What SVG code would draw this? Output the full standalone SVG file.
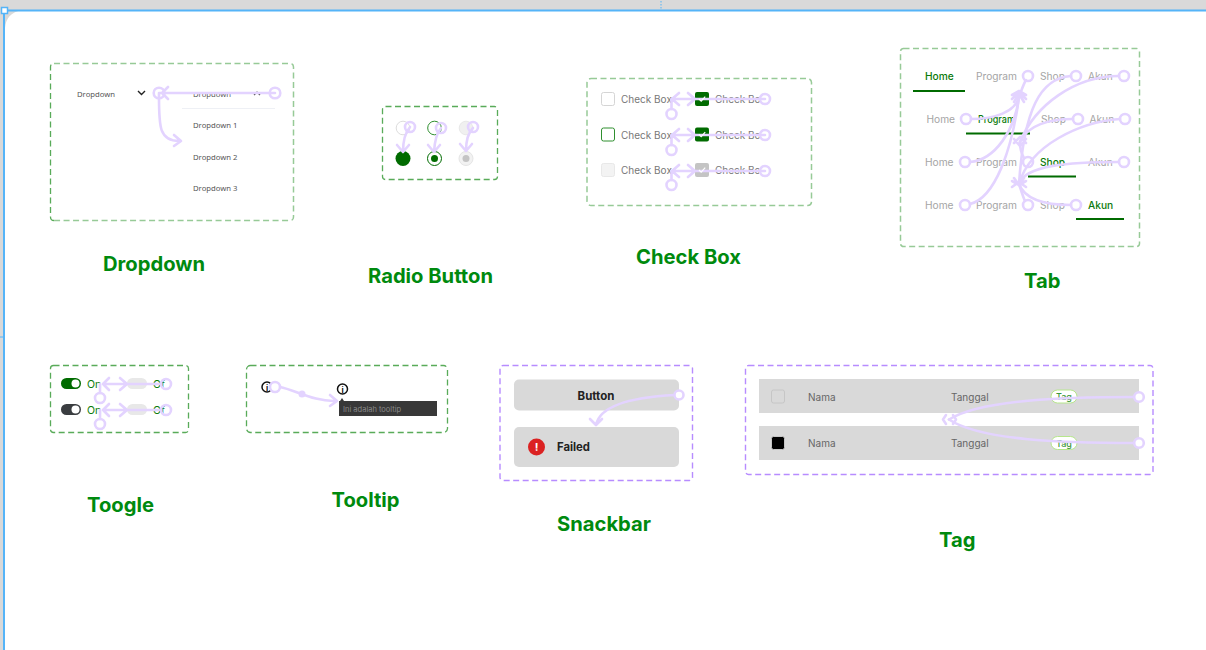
<svg xmlns="http://www.w3.org/2000/svg" width="1206" height="650" viewBox="0 0 1206 650">
<style>
text{font-family:Inter,"Liberation Sans",sans-serif}
.title{font-size:20.2px;font-weight:700;fill:#008a0e}
.gf{fill:none;stroke:#2f962f;stroke-opacity:.5;stroke-width:1.500;stroke-dasharray:6 3.500}
.gf2{fill:none;stroke:#2f962f;stroke-width:1.300;stroke-dasharray:6 3.500;stroke-opacity:.8}
.pf{fill:none;stroke:#b78cff;stroke-width:1.400;stroke-dasharray:6 3.500}
.dd{font-family:"Noto Sans",sans-serif;font-size:7.700px;fill:#555}
.lb{font-size:10px;fill:#777}
.tab{font-size:10.200px;fill:#a5a5a5}
.tabon{font-size:10.200px;fill:#0b7a0b;font-weight:500}
.ul{stroke:#006b00;stroke-width:2}
.row{font-size:10px;fill:#666}
.c{fill:none;stroke:#e3d3ff;stroke-width:2.600;stroke-linecap:round;stroke-linejoin:round}
.h{fill:#fff;stroke:#e3d3ff;stroke-width:2.600}
.hn{fill:none;stroke:#e3d3ff;stroke-width:2.600}
.tick{fill:none;stroke:#fff;stroke-width:1.200}
</style>
<rect width="1206" height="650" fill="#fff"/>
<g id="canvas">
<rect x="0" y="0" width="1206" height="10" fill="#d9d9d9"/>
<rect x="0" y="10" width="4" height="640" fill="#d9d9d9"/>
<path d="M4 10H22Q6 13 5 28Z" fill="#d9d9d9"/>
<path d="M4 650V10.500H1206" fill="none" stroke="#55b4f8" stroke-width="2"/>
<rect x="1.500" y="7.500" width="6" height="6" fill="#fff" stroke="#55b4f8" stroke-width="1.500"/>
<path d="M661 1V9" stroke="#55b4f8" stroke-dasharray="1.500 1.500" stroke-width="1"/>
<path d="M0 337H3" stroke="#55b4f8" stroke-width="1"/>
</g>
<g id="dropdown">
<path class="gf" d="M54 63.500H290Q293.500 63.500 293.500 67V217Q293.500 220.500 290 220.500H54"/>
<path class="gf2" d="M54 220.500Q50.500 220.500 50.500 217V67Q50.500 63.500 54 63.500"/>
<text class="dd" x="77" y="96.500">Dropdown</text>
<path d="M138 91l3.500 3.500 3.500-3.500" fill="none" stroke="#222" stroke-width="1.400"/>
<text class="dd" x="193" y="96.500">Dropdown</text>
<path d="M254 95l3-3 3 3" fill="none" stroke="#444" stroke-width="1.200"/>
<path d="M182 108.500H275" stroke="#eef0f5" stroke-width="1"/>
<text class="dd" x="193" y="128">Dropdown 1</text>
<text class="dd" x="193" y="159.500">Dropdown 2</text>
<text class="dd" x="193" y="191">Dropdown 3</text>
<text class="title" x="103" y="271">Dropdown</text>
</g>
<g id="radio">
<rect class="gf2" x="382.500" y="106.500" width="115" height="73" rx="3"/>
<circle cx="403" cy="128" r="6.800" fill="#fff" stroke="#ddd"/>
<circle cx="434.500" cy="128" r="6.800" fill="#fff" stroke="#2f8f2f"/>
<circle cx="466" cy="128" r="6.800" fill="#f0f0f0" stroke="#e8e8e8"/>
<circle cx="403" cy="158.500" r="7.500" fill="#006b00"/>
<circle cx="434.500" cy="158.500" r="7" fill="#fff" stroke="#006b00"/>
<circle cx="434.500" cy="158.500" r="3.500" fill="#006b00"/>
<circle cx="466" cy="158.500" r="7" fill="#f2f2f2" stroke="#e5e5e5"/>
<circle cx="466" cy="158.500" r="3.500" fill="#c4c4c4"/>
<text class="title" x="368" y="283">Radio Button</text>
</g>
<g id="checkbox">
<rect class="gf" x="587" y="78.500" width="224.500" height="127" rx="4"/>
<rect x="601.500" y="92.500" width="13" height="13" rx="2" fill="#fff" stroke="#d5d5d5"/>
<rect x="601.500" y="128" width="13" height="13" rx="2" fill="#fff" stroke="#2f8f2f"/>
<rect x="601.500" y="163.500" width="13" height="13" rx="2" fill="#f3f3f3" stroke="#e8e8e8"/>
<text class="lb" x="621" y="103">Check Box</text>
<text class="lb" x="621" y="138.500">Check Box</text>
<text class="lb" x="621" y="174">Check Box</text>
<rect x="695" y="92" width="14" height="14" rx="2" fill="#006b00"/>
<rect x="695" y="127.500" width="14" height="14" rx="2" fill="#006b00"/>
<rect x="695" y="163" width="14" height="14" rx="2" fill="#c4c4c4"/>
<text class="lb" x="715" y="103">Check Bo</text>
<text class="lb" x="715" y="138.500">Check Bo</text>
<text class="lb" x="715" y="174">Check Bo</text>
<text class="title" x="636" y="264">Check Box</text>
</g>
<g id="tab">
<rect class="gf" x="900.500" y="48.500" width="239" height="198" rx="3"/>
<text class="tabon" x="925" y="80">Home</text><text class="tab" x="976" y="80">Program</text><text class="tab" x="1040" y="80">Shop</text><text class="tab" x="1088" y="80">Akun</text>
<path class="ul" d="M913 91H965"/>
<text class="tab" x="926.500" y="123">Home</text><text class="tabon" x="978" y="123" textLength="37" lengthAdjust="spacingAndGlyphs">Program</text><text class="tab" x="1041" y="123">Shop</text><text class="tab" x="1089.500" y="123">Akun</text>
<path class="ul" d="M966 133.500H1030"/>
<text class="tab" x="925" y="166">Home</text><text class="tab" x="976" y="166">Program</text><text class="tabon" x="1040" y="166">Shop</text><text class="tab" x="1088" y="166">Akun</text>
<path class="ul" d="M1028 176.500H1076"/>
<text class="tab" x="925" y="209">Home</text><text class="tab" x="976" y="209">Program</text><text class="tab" x="1040" y="209">Shop</text><text class="tabon" x="1088" y="209">Akun</text>
<path class="ul" d="M1076 219H1124"/>
<text class="title" x="1024" y="288">Tab</text>
</g>
<g id="toggle">
<rect class="gf2" x="50.500" y="365.500" width="138" height="67" rx="3"/>
<rect x="61" y="378" width="20" height="11" rx="5.500" fill="#006b00"/>
<circle cx="75.500" cy="383.500" r="4" fill="#fff"/>
<rect x="61" y="404" width="20" height="11" rx="5.500" fill="#3a3d40"/>
<circle cx="75.500" cy="409.500" r="4" fill="#fff"/>
<text x="87" y="387.500" font-size="10.500" fill="#0b7a0b">On</text>
<text x="87" y="413.500" font-size="10.500" fill="#0b7a0b">On</text>
<rect x="127" y="378" width="20" height="11" rx="5.500" fill="#e8e8e8"/>
<rect x="127" y="404" width="20" height="11" rx="5.500" fill="#e8e8e8"/>
<text x="153" y="387.500" font-size="10.500" fill="#0b7a0b">Of</text>
<text x="153" y="413.500" font-size="10.500" fill="#0b7a0b">Of</text>
<text class="title" x="87" y="512">Toogle</text>
</g>
<g id="tooltip">
<rect class="gf2" x="246.500" y="365.500" width="201" height="67" rx="4"/>
<circle cx="267" cy="387" r="5" fill="#fff" stroke="#111" stroke-width="1.500"/>
<text x="267" y="390.500" font-size="8" font-weight="700" text-anchor="middle" fill="#111">i</text>
<circle cx="342.500" cy="389" r="5" fill="#fff" stroke="#111" stroke-width="1.500"/>
<text x="342.500" y="392.500" font-size="8" font-weight="700" text-anchor="middle" fill="#111">i</text>
<rect x="339" y="401" width="98" height="15" fill="#383838"/>
<path d="M340 401l2-3 2 3Z" fill="#383838"/>
<text x="343" y="412" font-size="7.500" fill="#8a8a8a">Ini adalah tooltip</text>
<text class="title" x="331.500" y="507">Tooltip</text>
</g>
<g id="snackbar">
<rect class="pf" x="500" y="365.500" width="192.500" height="115" rx="3"/>
<rect x="514" y="379.500" width="165" height="31" rx="5" fill="#d9d9d9"/>
<text x="596" y="399.500" font-size="11.500" font-weight="700" text-anchor="middle" fill="#222">Button</text>
<rect x="514" y="427" width="165" height="40" rx="5" fill="#d9d9d9"/>
<circle cx="536.500" cy="447" r="8.500" fill="#db2222"/>
<text x="536.500" y="451" font-size="11" font-weight="700" text-anchor="middle" fill="#fff">!</text>
<text x="557" y="451" font-size="11.300" font-weight="700" fill="#222">Failed</text>
<text class="title" x="557" y="531">Snackbar</text>
</g>
<g id="tag">
<rect class="pf" x="745.500" y="365.500" width="407.500" height="109" rx="3"/>
<rect x="759" y="379" width="380" height="34" fill="#d9d9d9"/>
<rect x="759" y="426" width="380" height="34" fill="#d9d9d9"/>
<rect x="771.500" y="390" width="13" height="13" rx="2" fill="#d9d9d9" stroke="#c6c6c6"/>
<rect x="771.500" y="436.500" width="13" height="13" rx="2" fill="#000" stroke="#c6c6c6"/>
<text class="row" x="808" y="400.500">Nama</text><text class="row" x="951" y="400.500">Tanggal</text>
<text class="row" x="808" y="447">Nama</text><text class="row" x="951" y="447">Tanggal</text>
<rect x="1051" y="390" width="26" height="13" rx="6.500" fill="#fff" stroke="#b6e68c"/>
<rect x="1051" y="436.500" width="26" height="13" rx="6.500" fill="#fff" stroke="#b6e68c"/>
<text x="1064" y="400" font-size="9" font-weight="500" text-anchor="middle" fill="#3c963c">Tag</text>
<text x="1064" y="446.500" font-size="9" font-weight="500" text-anchor="middle" fill="#3c963c">Tag</text>
<text class="title" x="939" y="547">Tag</text>
</g>
<g id="connectors">
<path class="c" d="M275 93H160M168 87l-6 6 6 6"/>
<path class="c" d="M159 93C159 125 158 142 181 141M174 135l7 6-7 5"/>
<circle class="hn" cx="159" cy="93" r="5.300"/><circle class="hn" cx="275" cy="93" r="5.300"/>
<path class="c" d="M410 127Q403 135 403 152M397 145l6 7 6-7"/>
<path class="c" d="M441 128Q435 135 434 152M428 145l6 7 6-7"/>
<path class="c" d="M473 128Q466 135 466 151M460 144l6 7 6-7"/>
<circle class="hn" cx="410" cy="127" r="5"/><circle class="hn" cx="441" cy="128" r="5"/><circle class="hn" cx="473" cy="127" r="5"/>
<path class="c" d="M671.500 109V99M765 99H672M679 93l-7 6 7 6M688 93l7 6-7 6"/>
<path class="c" d="M671.500 145V135M765 135H672M679 129l-7 6 7 6M688 129l7 6-7 6"/>
<path class="c" d="M671.500 180V171M765 171H672M679 165l-7 6 7 6M688 165l7 6-7 6"/>
<path class="tick" d="M699 99l2.200 2.200 4-4.500M699 134.500l2.200 2.200 4-4.500M699 170l2.200 2.200 4-4.500"/>
<circle class="hn" cx="765" cy="99" r="5"/><circle class="hn" cx="765" cy="135" r="5"/><circle class="hn" cx="765" cy="171" r="5"/>
<circle class="hn" cx="671.500" cy="114" r="5"/><circle class="hn" cx="671.500" cy="150" r="5"/><circle class="hn" cx="671.500" cy="185" r="5"/>
<path class="c" d="M1026 80C1023 85 1021 92 1019 97"/>
<path class="c" d="M971 119C995 119 1015 112 1019 97"/>
<path class="c" d="M970 162C995 160 1015 130 1019 97"/>
<path class="c" d="M970 204C995 198 1012 150 1019 97"/>
<path class="c" d="M1012 95l7-4 7 4M1012 99l7-7 7 7M1014 102l5-8 5 8"/>
<path class="c" d="M1119 76C1075 76 1035 105 1020 142"/>
<path class="c" d="M1073 119C1050 119 1027 125 1020 142"/>
<path class="c" d="M1024 158C1021 153 1020 148 1020 142"/>
<path class="c" d="M1014 139l6 7 6-7M1014 143l6-6 6 6"/>
<path class="c" d="M1071 76C1040 78 1024 110 1019 184"/>
<path class="c" d="M1120 119C1080 122 1030 145 1019 184"/>
<path class="c" d="M1119 162C1070 162 1025 165 1019 184"/>
<path class="c" d="M1071 205C1045 205 1025 200 1019 184"/>
<path class="c" d="M1025 201C1023 197 1021 190 1019 184"/>
<path class="c" d="M1012 181l7 4 7-4M1012 187l7-5 7 5M1014 178l5 7 5-7"/>
<circle class="hn" cx="1028" cy="76" r="5"/><circle class="hn" cx="1076" cy="76" r="5"/><circle class="hn" cx="1124" cy="76" r="5"/>
<circle class="hn" cx="966" cy="119" r="5"/><circle class="hn" cx="1078" cy="119" r="5"/><circle class="hn" cx="1125" cy="119" r="5"/>
<circle class="hn" cx="965" cy="162" r="5"/><circle class="hn" cx="1028" cy="162" r="5"/><circle class="hn" cx="1124" cy="162" r="5"/>
<circle class="hn" cx="965" cy="205" r="5"/><circle class="hn" cx="1028" cy="205" r="5"/><circle class="hn" cx="1076" cy="205" r="5"/>
<path class="c" d="M161 384H103M109 378l-6 6 6 6M120 378l7 6-7 6"/>
<path class="c" d="M161 410H103M109 404l-6 6 6 6M120 404l7 6-7 6"/>
<path class="c" d="M100 393V384M100 419V410"/>
<circle class="hn" cx="166" cy="384" r="5"/><circle class="hn" cx="166" cy="410" r="5"/>
<circle class="hn" cx="100" cy="398" r="5"/><circle class="hn" cx="100" cy="424" r="5"/>
<path class="c" d="M280 387C295 390 315 402 336 401M330 395l7 6-7 5"/>
<circle class="h" cx="275" cy="387" r="5"/>
<circle cx="302" cy="394" r="3.500" fill="#e3d3ff"/>
<path class="c" d="M675 395C635 397 600 405 596 425M590 419l6 6 6-6"/>
<circle class="h" cx="679" cy="395" r="4.500"/>
<path class="c" d="M1135 397C1060 397 980 400 949 419.500"/>
<path class="c" d="M1135 443C1060 443 980 440 949 419.500"/>
<path class="c" d="M946 415l-3 4.500 3 4.500M953 415l3 4.500-3 4.500"/>
<circle class="h" cx="1139" cy="397" r="4.800"/><circle class="h" cx="1139" cy="443" r="4.800"/>
</g>
</svg>
